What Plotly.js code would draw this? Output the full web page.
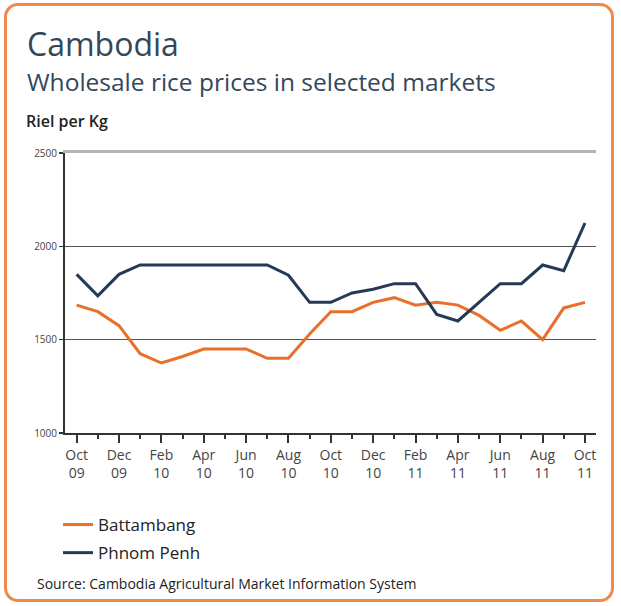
<!DOCTYPE html>
<html>
<head>
<meta charset="utf-8">
<script src="https://cdn.plot.ly/plotly-3.0.1.min.js"></script>
<style>
  html, body { margin: 0; padding: 0; background: #ffffff; }
  #wrap { position: relative; width: 621px; height: 606px; }
  #chart { width: 621px; height: 606px; }
  #frame { position: absolute; left: 4px; top: 3px; width: 610px; height: 599px; box-sizing: border-box;
           border: 3px solid #EF8A4F; border-radius: 14px; pointer-events: none; }
</style>
</head>
<body>
<div id="wrap">
  <div id="chart"></div>
  <div id="frame"></div>
</div>
<script>
// Months Oct 2009 .. Oct 2011
const months = ["Oct 09","Nov 09","Dec 09","Jan 10","Feb 10","Mar 10","Apr 10","May 10","Jun 10","Jul 10","Aug 10","Sep 10",
                "Oct 10","Nov 10","Dec 10","Jan 11","Feb 11","Mar 11","Apr 11","May 11","Jun 11","Jul 11","Aug 11","Sep 11","Oct 11"];
const battambang = [1685,1650,1575,1425,1375,1410,1450,1450,1450,1400,1400,1530,
                    1650,1650,1700,1725,1685,1700,1685,1630,1550,1600,1500,1670,1700];
const phnomPenh  = [1850,1735,1850,1900,1900,1900,1900,1900,1900,1900,1845,1700,
                    1700,1750,1770,1800,1800,1635,1600,1700,1800,1800,1900,1870,2125];
const tickLabels = ["Oct<br>09","Dec<br>09","Feb<br>10","Apr<br>10","Jun<br>10","Aug<br>10",
                    "Oct<br>10","Dec<br>10","Feb<br>11","Apr<br>11","Jun<br>11","Aug<br>11","Oct<br>11"];
const yTicks = [1000,1500,2000,2500];

const idx = months.map((m,i)=>i);
const majorIdx = idx.filter(i=>i%2===0);

const W = 621, H = 606, ML = 65, MR = 25, MT = 153, MB = 173;
const pw = W-ML-MR, ph = H-MT-MB;
const px = x => (x-ML)/pw;
const py = y => (H-MB-y)/ph;

const FONT = "Open Sans, sans-serif";
const ORANGE = "#E8702A", NAVY = "#243A55";

const traces = [
  {x: idx, y: battambang, name: "Battambang", type: "scatter", mode: "lines", legendgroup: "a",
   line: {color: ORANGE, width: 3}, text: months, hoverinfo: "text+y"},
  {x: idx, y: phnomPenh, name: "Phnom Penh", type: "scatter", mode: "lines", legendgroup: "b",
   line: {color: NAVY, width: 3}, text: months, hoverinfo: "text+y"},
  {x: [], y: [], xaxis: "x2", yaxis: "y", showlegend: false, hoverinfo: "skip"}
];

const layout = {
  width: W, height: H,
  margin: {l: ML, r: MR, t: MT, b: MB, pad: 0},
  paper_bgcolor: "#ffffff", plot_bgcolor: "#ffffff",
  font: {family: FONT, color: "#333333"},
  showlegend: true,
  legend: {x: px(58), y: py(507), xanchor: "left", yanchor: "top",
           font: {family: FONT, size: 17, color: "#222222"}, bgcolor: "rgba(0,0,0,0)",
           tracegroupgap: 3, itemwidth: 30, traceorder: "grouped"},
  xaxis: {
    range: [-0.55, 24.52], tickmode: "array", tickvals: majorIdx, ticktext: tickLabels,
    ticks: "outside", ticklen: 8, tickwidth: 2, tickcolor: "#333",
    tickfont: {family: FONT, size: 14, color: "#444"},
    minor: {tickvals: idx, ticks: "outside", ticklen: 4, tickwidth: 2, tickcolor: "#333", showgrid: false},
    showline: true, linecolor: "#333", linewidth: 2, showgrid: false, zeroline: false, fixedrange: true
  },
  xaxis2: {
    overlaying: "x", side: "top", range: [-0.55, 24.52], showline: true, linecolor: "#B4B4B4", linewidth: 3,
    showticklabels: false, ticks: "", showgrid: false, zeroline: false, fixedrange: true
  },
  yaxis: {
    range: [1000, 2500], tickmode: "array", tickvals: yTicks, ticktext: yTicks.map(String),
    ticks: "outside", ticklen: 4, tickwidth: 1.5, tickcolor: "#333",
    tickfont: {family: FONT, size: 10, color: "#444"},
    showline: true, linecolor: "#333", linewidth: 2, showgrid: true, gridcolor: "#555555", gridwidth: 1,
    zeroline: false, fixedrange: true
  },
  annotations: [
    {text: "Cambodia", xref: "paper", yref: "paper", x: px(25), y: py(43), xanchor: "left", yanchor: "middle",
     showarrow: false, font: {family: FONT, size: 32, color: "#34475A"}},
    {text: "Wholesale rice prices in selected markets", xref: "paper", yref: "paper", x: px(25), y: py(81),
     xanchor: "left", yanchor: "middle", showarrow: false, font: {family: FONT, size: 24.5, color: "#34475A"}},
    {text: "Riel per Kg", xref: "paper", yref: "paper", x: px(24), y: py(121), xanchor: "left", yanchor: "middle",
     showarrow: false, font: {family: FONT, size: 16, weight: 600, color: "#222222"}},
    {text: "Source: Cambodia Agricultural Market Information System", xref: "paper", yref: "paper",
     x: px(35), y: py(583), xanchor: "left", yanchor: "middle", showarrow: false,
     font: {family: FONT, size: 14, color: "#222222"}}
  ]
};

Plotly.newPlot("chart", traces, layout, {displayModeBar: false, staticPlot: true});
</script>
</body>
</html>
